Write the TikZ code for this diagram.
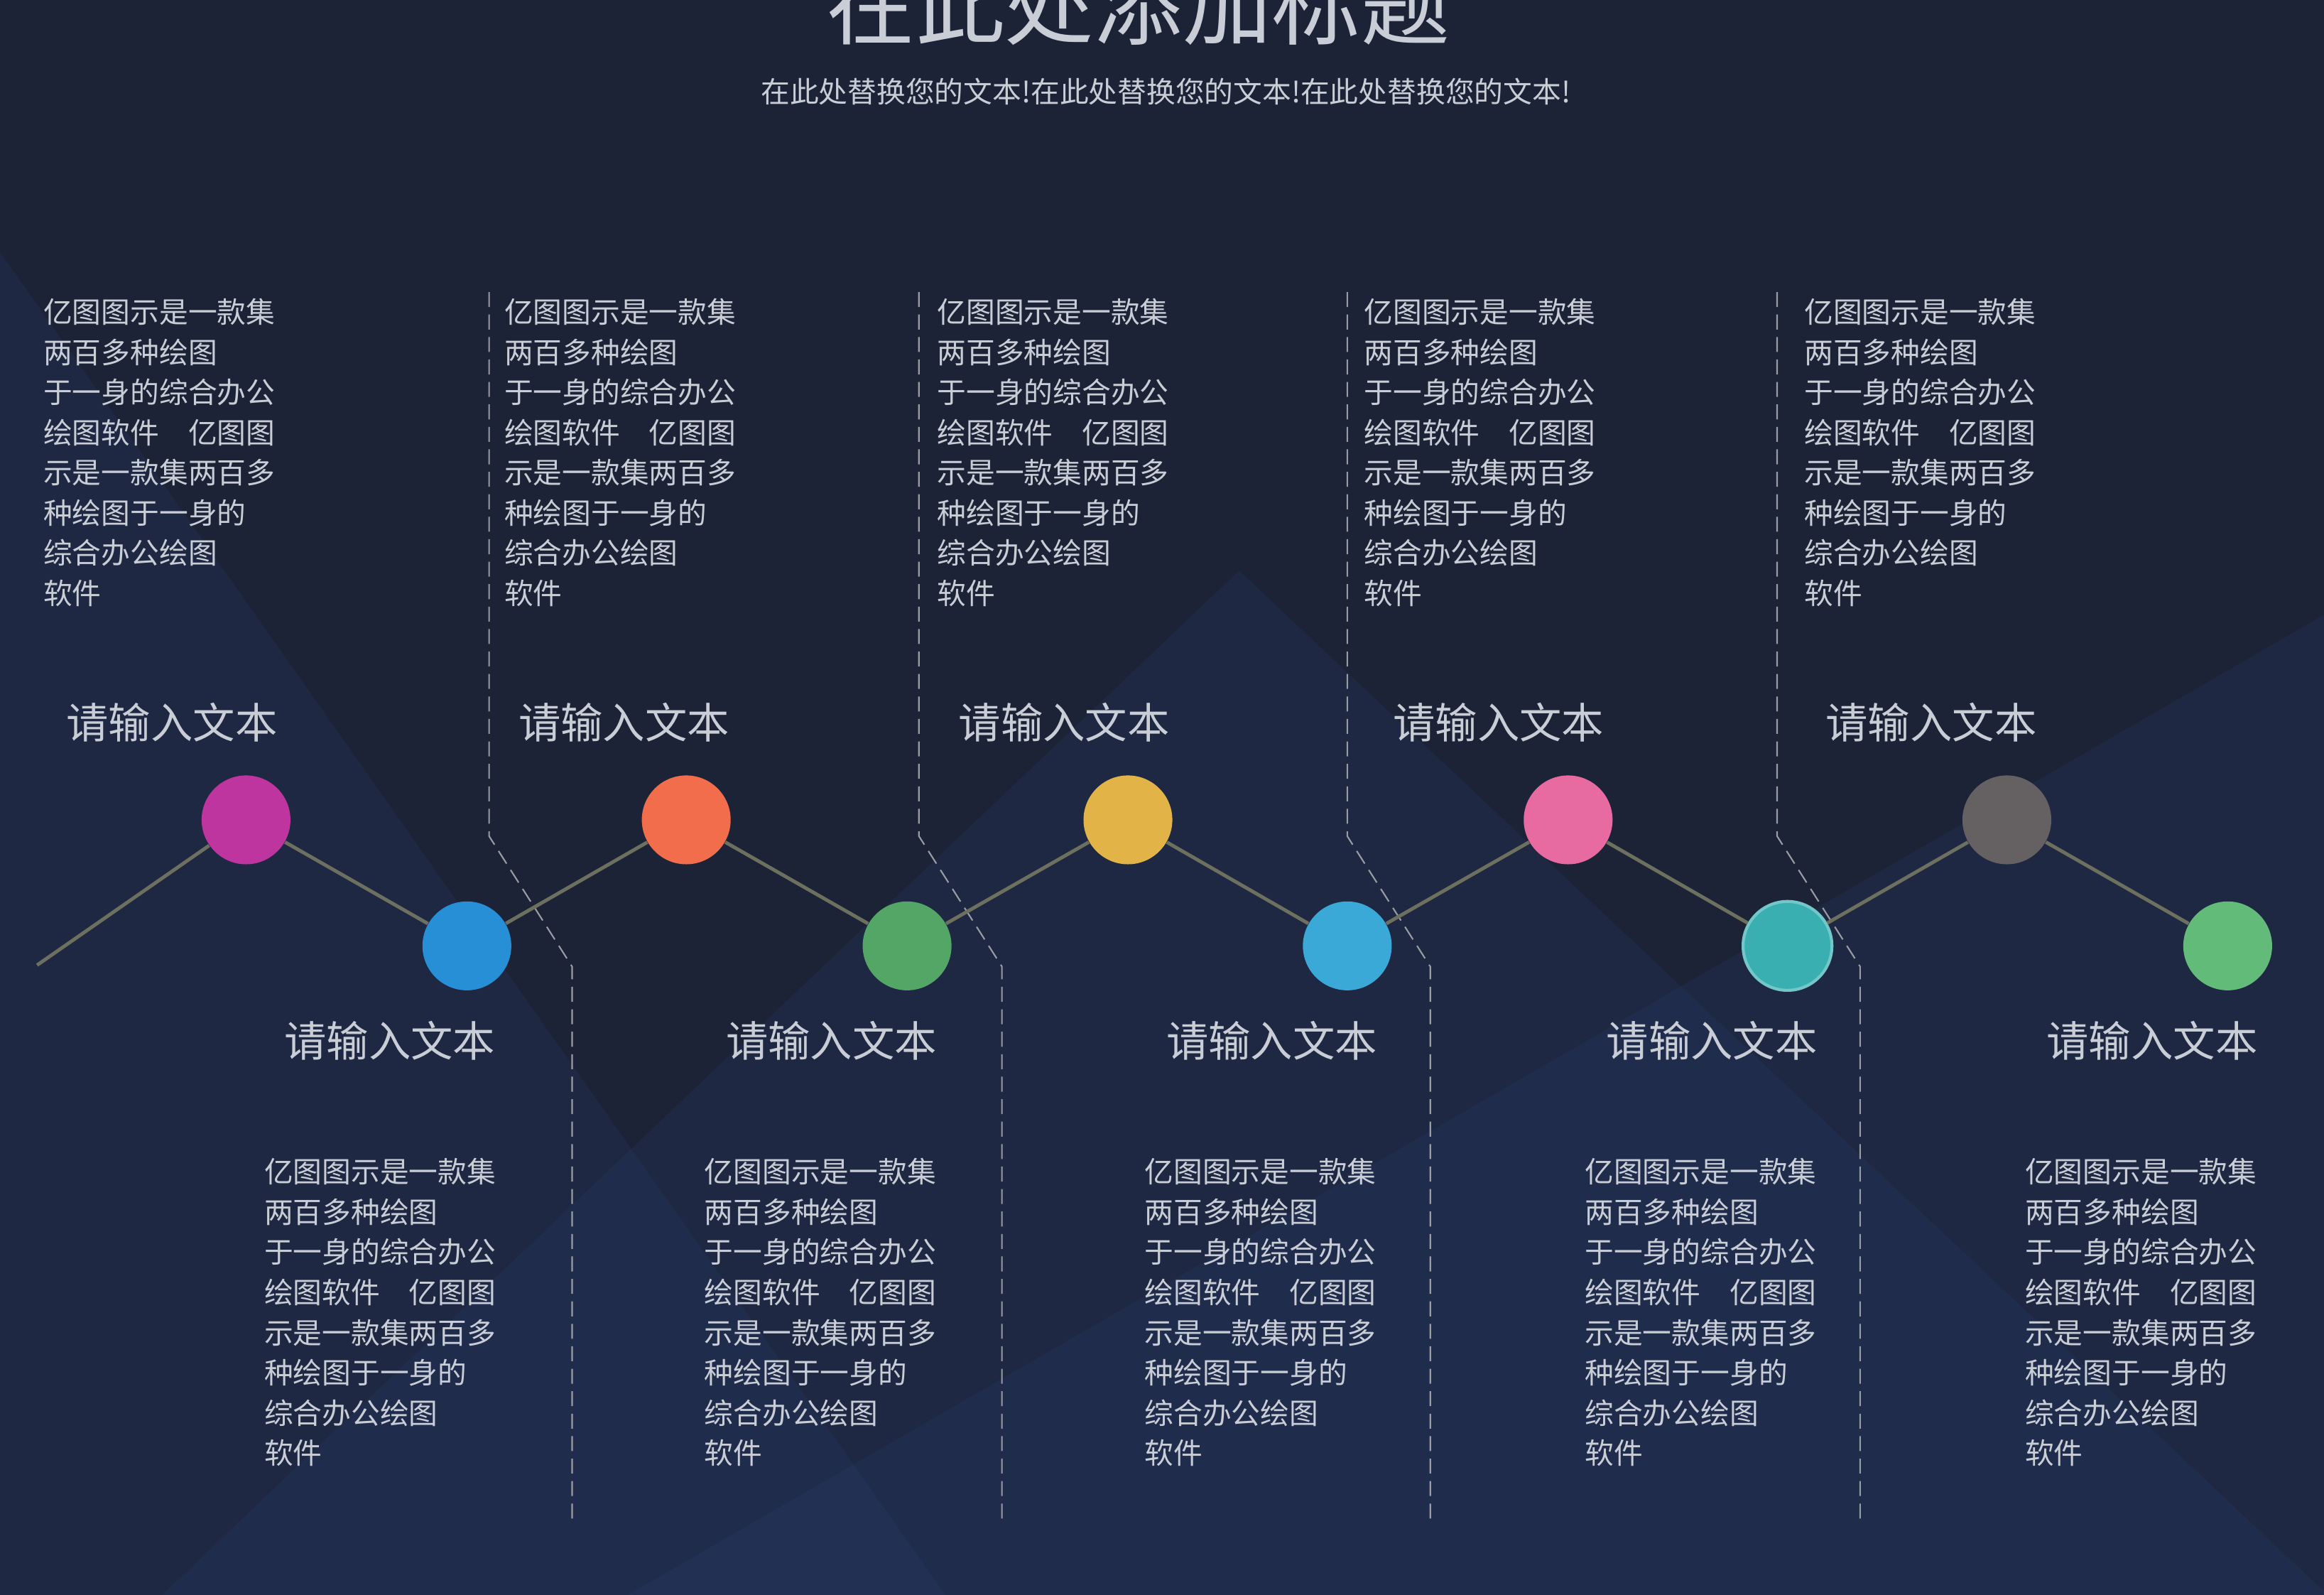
\documentclass[tikz,border=0pt]{standalone}
\usepackage{fontspec}
\setmainfont{Noto Sans CJK SC}
\usetikzlibrary{calc}

\definecolor{sfondo}{HTML}{1C2336}
\definecolor{velo}{HTML}{2D4682}
\definecolor{scritta}{HTML}{C9CDD6}
\definecolor{linea}{HTML}{6D705F}
\definecolor{tratto}{HTML}{9A9CA4}
\definecolor{cmagenta}{HTML}{BF35A0}
\definecolor{cblu}{HTML}{268FD6}
\definecolor{carancio}{HTML}{F26D4B}
\definecolor{cverde}{HTML}{54A667}
\definecolor{cgiallo}{HTML}{E2B347}
\definecolor{ccielo}{HTML}{3AA9D8}
\definecolor{crosa}{HTML}{E76BA0}
\definecolor{cteal}{HTML}{39AFB1}
\definecolor{cgrigio}{HTML}{656163}
\definecolor{cprato}{HTML}{62BB78}

\newcommand{\paragrafo}{亿图图示是一款集\\两百多种绘图\\于一身的综合办公\\绘图软件　亿图图\\示是一款集两百多\\种绘图于一身的\\综合办公绘图\\软件}

\begin{document}
\begin{tikzpicture}[x=0.020867cm,y=-0.020867cm,
    punto/.style={circle,minimum size=35.6pt,inner sep=0pt},
    voce/.style={inner sep=0pt,text=scritta,font=\fontsize{16.9}{20}\selectfont},
    blocco/.style={anchor=north west,inner sep=0pt,align=left,text=scritta,font=\fontsize{11.6}{16.1}\selectfont},
    divisore/.style={tratto,line width=0.6pt,dash pattern=on 6pt off 3pt},
    triangolo/.style={velo,opacity=0.16}]
    \useasboundingbox (0,0) rectangle (1568,1075.4);
    \clip (-3,-3) rectangle (1571,1079);
    \fill[sfondo] (-3,-3) rectangle (1571,1079);

    %triangoli chiari sullo sfondo
    \fill[triangolo] (0,170) -- (640,1079) -- (-3,1079) -- (-3,170) -- cycle;
    \fill[triangolo] (836,385) -- (1574,1079) -- (106,1079) -- cycle;
    \fill[triangolo] (1571,413) -- (1571,1079) -- (418,1079) -- cycle;

    %titolo e sottotitolo
    \node[inner sep=0pt,text=scritta,font=\fontsize{35.7}{40}\selectfont] (titolo) at (768,3) {在此处添加标题};
    \node[inner sep=0pt,text=scritta,font=\fontsize{11.6}{14}\selectfont] (sottotitolo) at (786.5,62) {在此处替换您的文本!在此处替换您的文本!在此处替换您的文本!};

    %linee tratteggiate di separazione
    \foreach \xa/\xb in {330/386,620/676,909/965,1199/1255}
        \draw[divisore] (\xa,197) -- (\xa,564) -- (\xb,652) -- (\xb,1027);

    %cerchi in alto e in basso
    \node[punto,fill=cmagenta] (c1) at (166,553) {};
    \node[punto,fill=cblu] (c2) at (315,638) {};
    \node[punto,fill=carancio] (c3) at (463,553) {};
    \node[punto,fill=cverde] (c4) at (612,638) {};
    \node[punto,fill=cgiallo] (c5) at (761,553) {};
    \node[punto,fill=ccielo] (c6) at (909,638) {};
    \node[punto,fill=crosa] (c7) at (1058,553) {};
    \node[punto,fill=cteal,draw=cteal!70!white,line width=1.2pt] (c8) at (1206,638) {};
    \node[punto,fill=cgrigio] (c9) at (1354,553) {};
    \node[punto,fill=cprato] (c10) at (1503,638) {};

    %linea a zig zag
    \coordinate (inizio) at (25,651);
    \draw[linea,line width=1.4pt] (inizio) -- (c1) -- (c2) -- (c3) -- (c4) -- (c5)
        -- (c6) -- (c7) -- (c8) -- (c9) -- (c10);

    %titoletti
    \foreach \x [count=\i] in {116,421,718,1011,1303}
        \node[voce] (alto\i) at (\x,487) {请输入文本};
    \foreach \x [count=\i] in {263,561,858,1155,1452}
        \node[voce] (basso\i) at (\x,702) {请输入文本};

    %paragrafi
    \foreach \x [count=\i] in {29,340,632,920,1217}
        \node[blocco] (testoalto\i) at (\x,201) {\paragrafo};
    \foreach \x [count=\i] in {178,475,772,1069,1366}
        \node[blocco] (testobasso\i) at (\x,781) {\paragrafo};
\end{tikzpicture}
\end{document}
